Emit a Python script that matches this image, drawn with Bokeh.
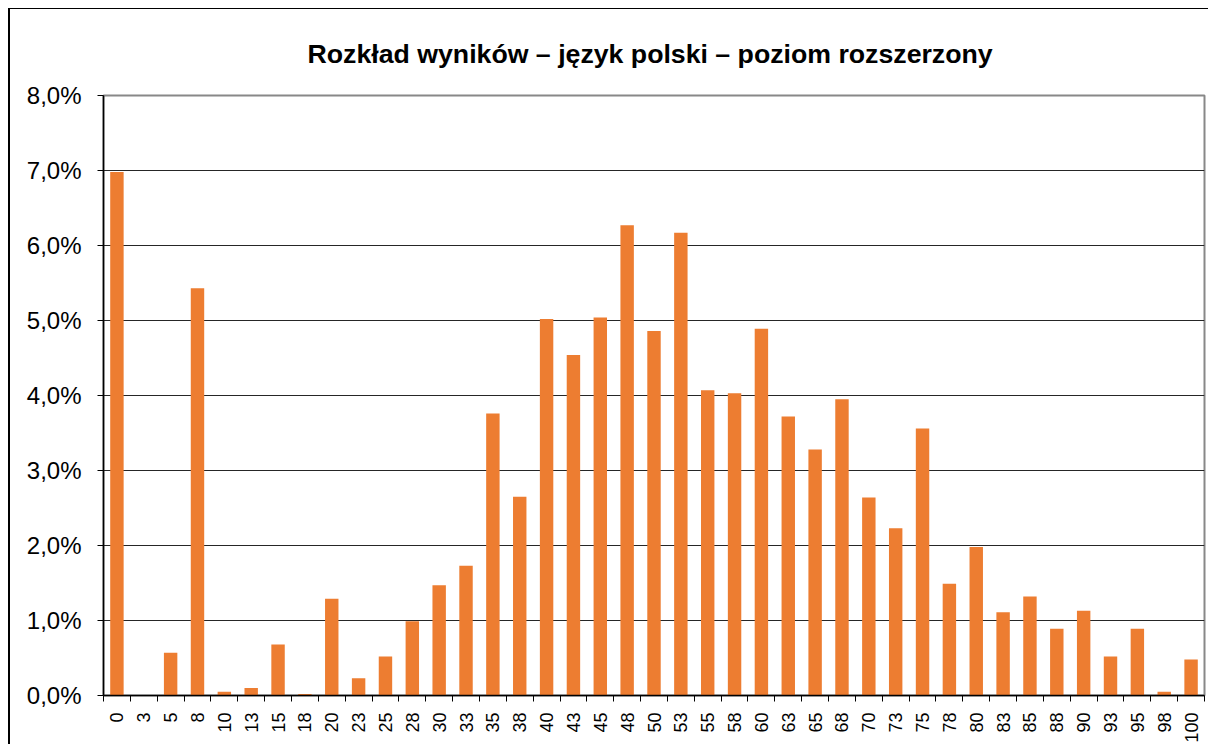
import numpy as np
from bokeh.plotting import figure
from bokeh.models import Range1d, FixedTicker, CustomJSTickFormatter, ColumnDataSource
from bokeh.embed import file_html
from bokeh.resources import INLINE

title_text = "Rozkład wyników – język polski – poziom rozszerzony"

categories = ["0", "3", "5", "8", "10", "13", "15", "18", "20", "23", "25", "28",
              "30", "33", "35", "38", "40", "43", "45", "48", "50", "53", "55", "58",
              "60", "63", "65", "68", "70", "73", "75", "78", "80", "83", "85", "88",
              "90", "93", "95", "98", "100"]

values = [6.98, 0.0, 0.57, 5.43, 0.05, 0.10, 0.68, 0.02, 1.29, 0.23, 0.52, 0.99,
          1.47, 1.73, 3.76, 2.65, 5.02, 4.54, 5.04, 6.27, 4.86, 6.17, 4.07, 4.03,
          4.89, 3.72, 3.28, 3.95, 2.64, 2.23, 3.56, 1.49, 1.98, 1.11, 1.32, 0.89,
          1.13, 0.52, 0.89, 0.05, 0.48]

y_ticks = [0, 1, 2, 3, 4, 5, 6, 7, 8]

n = len(categories)
x = np.arange(n) + 0.5
src = ColumnDataSource(dict(x=x, top=values, cat=categories))

FONT = "Liberation Sans"

p = figure(width=1200, height=736, output_backend="svg", toolbar_location=None,
           x_range=Range1d(0, n), y_range=Range1d(y_ticks[0], y_ticks[-1]),
           min_border_left=93, min_border_right=6, min_border_top=85,
           min_border_bottom=45)
p.margin = (8, 0, 0, 8)
p.styles = {"border-left": "2px solid black", "border-top": "1px solid black"}

p.title.text = title_text
p.title.align = "left"
p.title.offset = 204
p.title.text_font = FONT
p.title.text_font_size = "26.7px"
p.title.text_font_style = "bold"
p.title.text_color = "black"
p.title.standoff = 54

p.vbar(x="x", top="top", width=0.5, source=src, fill_color="#ED7D31", line_color=None)

# y axis
p.yaxis.ticker = FixedTicker(ticks=y_ticks)
p.yaxis.formatter = CustomJSTickFormatter(code="return tick.toFixed(1).replace('.', ',') + '%';")
p.yaxis.major_label_text_font = FONT
p.yaxis.major_label_text_font_size = "24px"
p.yaxis.major_label_text_color = "black"
p.yaxis.major_tick_out = 6
p.yaxis.major_tick_in = 0
p.yaxis.minor_tick_line_color = None
p.yaxis.axis_line_color = "black"
p.yaxis.axis_line_width = 1.5
p.yaxis.major_tick_line_color = "black"
p.yaxis.major_label_standoff = 16

# x axis
p.xaxis.ticker = FixedTicker(ticks=list(x), minor_ticks=list(np.arange(n + 1)))
p.xaxis.formatter = CustomJSTickFormatter(args=dict(cats=categories),
                                          code="return cats[Math.floor(tick)];")
p.xaxis.major_label_orientation = np.pi / 2
p.xaxis.major_label_text_font = FONT
p.xaxis.major_label_text_font_size = "18px"
p.xaxis.major_label_text_color = "black"
p.xaxis.major_tick_out = 0
p.xaxis.major_tick_in = 0
p.xaxis.minor_tick_out = 6
p.xaxis.minor_tick_in = 0
p.xaxis.minor_tick_line_color = "black"
p.xaxis.axis_line_color = "black"
p.xaxis.axis_line_width = 1.5
p.xaxis.major_label_standoff = 11

p.xgrid.visible = False
p.ygrid.grid_line_color = "#262626"
p.ygrid.grid_line_width = 1

p.outline_line_color = "#888888"
p.outline_line_width = 2
p.background_fill_color = "white"
p.border_fill_color = "white"

open("out.html", "w").write(file_html(p, INLINE))
